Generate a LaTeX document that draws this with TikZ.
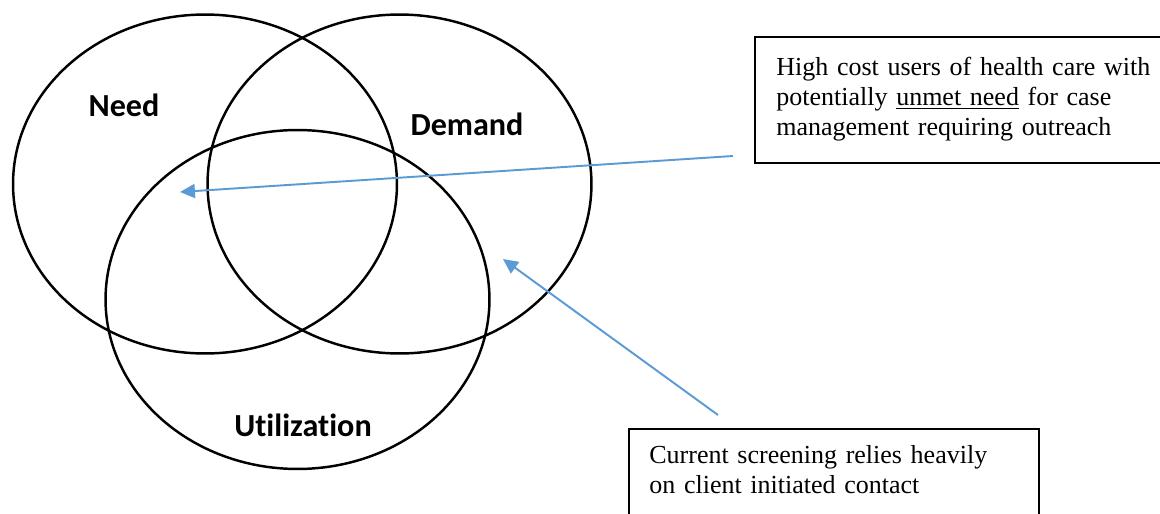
\documentclass[tikz,border=0pt]{standalone}
\usepackage{fontspec}
\setmainfont{Liberation Serif}
\newfontfamily\labelfont[Ligatures=NoCommon]{Carlito}
\usepackage{xcolor}
\definecolor{pointerblue}{RGB}{91, 155, 213}
\usetikzlibrary{shapes.geometric, arrows.meta}

\begin{document}
\begin{tikzpicture}[
        x=0.02cm, y=-0.02cm,
        venn/.style={ellipse, draw=black, line width=1.4pt, minimum width=7.68cm, minimum height=6.78cm, inner sep=0pt},
        setname/.style={anchor=base, font=\labelfont\bfseries\fontsize{18.3}{22}\selectfont},
        frame/.style={draw=black, line width=1pt},
        note/.style={anchor=base west, inner sep=0pt, text width=8cm, align=left, font=\fontsize{14.8}{17.3}\selectfont},
        pointer/.style={-{Triangle[length=8.5pt, width=8pt]}, line width=1.1pt, pointerblue}
    ]
    \useasboundingbox (0,0) rectangle (1160,514);
    % the three sets
    \node[venn] (need)   at (205,184)   {};
    \node[venn] (demand) at (399.5,184) {};
    \node[venn] (util)   at (297.5,299.5) {};
    \node[setname] (needlbl)   at (124,116) {Need};
    \node[setname] (demandlbl) at (467,135) {Demand};
    \node[setname] (utillbl)   at (303,436) {Utilization};
    % the two notes
    \draw[frame] (755,37) rectangle (1175,163);
    \node[note] (hicost) at (776,75) {High cost users of health care with\\potentially \underline{unmet need} for case\\management requiring outreach};
    \draw[frame] (629,429) rectangle (1039,530);
    \node[note] (screen) at (649,463) {Current screening relies heavily\\on client initiated contact};
    % pointers into the diagram
    \coordinate (hitail) at (733,156);
    \coordinate (hitip) at (180,192);
    \coordinate (sctail) at (718,415);
    \coordinate (sctip) at (503,259);
    \draw[pointer] (hitail) -- (hitip);
    \draw[pointer] (sctail) -- (sctip);
\end{tikzpicture}
\end{document}
